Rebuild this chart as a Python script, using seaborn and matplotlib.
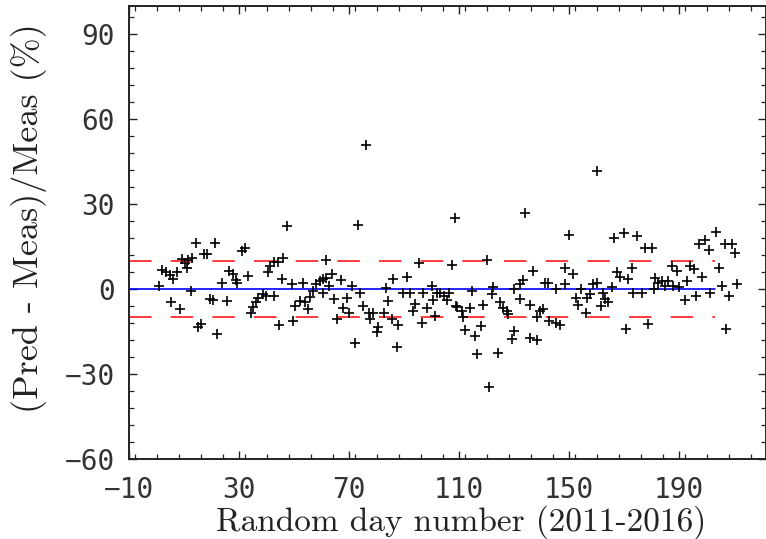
import matplotlib
matplotlib.use("Agg")
import matplotlib.pyplot as plt
import seaborn as sns
import pandas as pd
from matplotlib.ticker import MultipleLocator, FixedLocator, FuncFormatter

# ---- data ----
day = [1.0, 1.9, 3.5, 4.9, 6.1, 7.3, 5.3, 8.5, 9.1, 10.4, 11.5, 11.0, 12.8, 14.3, 12.4, 15.2, 16.0,
       17.3, 18.5, 21.3, 19.5, 20.4, 22.1, 23.7, 25.5, 26.4, 27.7, 28.9, 29.1, 31.0, 32.2, 33.4, 34.2,
       35.2, 36.2, 37.0, 38.8, 39.8, 42.7, 40.7, 41.3, 42.7, 44.3, 46.1, 47.6, 45.5, 49.1, 44.5, 49.8,
       50.5,
       76.2, 73.2, 108.5, 61.5, 95.5, 107.5, 53.1, 52.2, 54.0, 55.2, 55.8, 57.0, 58.0, 59.5, 60.4,
       61.6, 63.7, 62.8, 60.4, 64.5, 67.0, 69.1, 70.9, 65.5, 67.9, 70.1, 72.2, 74.0, 75.2, 77.1, 78.6,
       77.6, 80.7, 80.3, 82.7, 83.5, 84.3, 86.1, 85.5, 87.9, 87.3, 89.7, 91.2, 92.2, 94.0, 93.4, 96.4,
       97.0, 98.3, 100.0, 100.7, 101.9, 101.3, 103.1, 104.5, 105.5, 106.5, 108.9,
       134.0, 150.1, 166.4, 120.0, 137.0, 148.5, 151.6, 167.3, 133.2, 132.0, 141.3, 142.5, 148.5,
       130.0, 122.5, 114.6, 121.9, 145.3, 154.2, 158.8, 160.0, 162.5, 165.5, 132.0, 118.8, 109.1,
       110.9, 114.0, 111.6, 112.2, 115.8, 117.9, 116.7, 124.3, 121.0, 124.9, 125.8, 127.3, 127.9,
       135.8, 139.5, 140.7, 138.5, 142.8, 145.3, 146.7, 130.0, 129.1, 135.8, 138.5, 152.5, 153.4,
       156.2, 156.5, 157.6, 161.5, 163.1, 164.3,
       160.2, 169.8, 174.8, 177.6, 180.0, 168.5, 172.8, 171.6, 173.4, 176.4, 170.7, 178.8, 181.3,
       182.5, 183.7, 184.9, 186.1, 187.3, 189.4, 187.9, 190.0, 180.7, 192.2, 193.0, 194.0, 195.5,
       196.2, 198.2, 197.1, 199.6, 200.8, 203.3, 204.5, 205.5, 201.3, 206.7, 209.1, 210.4, 208.3,
       211.0, 207.1]
diff = [1.2, 6.7, 5.9, 4.9, 3.5, 5.9, -4.7, -7.1, 10.6, 9.4, 10.2, 7.6, 10.9, 16.4, -0.6, -13.5, -12.4,
        12.4, 12.4, 16.4, -3.5, -3.9, -15.9, 2.3, -4.1, 6.5, 5.3, 3.2, 2.3, 13.3, 14.7, 4.7, -8.3,
        -6.2, -4.7, -3.0, -1.8, -2.4, -2.4, 5.9, 8.2, 9.7, 9.7, 10.9, 22.3, 3.5, 1.8, -12.6, -11.4,
        -5.9,
        50.8, 22.6, 25.1, 10.2, 9.4, 8.6, 2.0, -4.1, -4.7, -7.1, -2.7, -0.6, 1.8, 2.9, 3.5,
        4.1, 5.5, 1.2, -1.5, -3.5, 3.2, -3.3, 1.2, -10.6, -6.5, -8.3, -19.2, -1.5, -5.9, -8.3, -8.3,
        -10.6, -13.3, -15.3, -8.3, 0.4, -4.1, 3.5, -10.6, -12.6, -20.4, -1.2, 4.3, -1.5, -5.3, -7.7, -11.8,
        -1.5, -6.7, 1.2, -3.9, -1.5, -9.4, -1.5, -2.4, -3.9, -1.5, -5.9,
        27.0, 19.2, 18.2, 10.2, 6.5, 7.4, 5.5, 6.2, 3.2, 1.8, 2.0, 2.0, 1.8,
        0.0, 0.8, -0.8, -1.8, 0.0, 0.0, 1.8, 2.3, -1.2, 0.6, -3.5, -5.5, -6.2,
        -7.9, -6.7, -10.0, -14.5, -16.5, -13.0, -22.9, -22.7, -34.7, -4.7, -6.5, -7.9, -8.8,
        -5.5, -7.7, -7.1, -9.8, -11.2, -11.8, -12.6, -14.7, -17.6, -17.1, -18.0, -3.0, -5.5,
        -8.3, -3.0, -1.8, -5.9, -3.5, -4.7,
        41.8, 20.0, 18.8, 14.7, 14.5, 4.3, 7.4, 3.5, -1.2, -1.2, -14.1, -12.4, 4.1,
        2.3, 2.9, 1.2, 2.9, 8.2, 6.5, 1.2, 0.8, 0.0, -3.9, 2.9, 8.2, 7.1,
        -2.4, 4.3, 16.1, 17.3, 13.8, 20.3, 7.4, 1.2, -1.2, 15.9, 15.9, 12.9, -2.4,
        1.8, -14.1]

ref_x = [-10, 203]
zero_line = [0, 0]
upper_band = [10, 10]
lower_band = [-10, -10]

xticks = [-10, 30, 70, 110, 150, 190]
yticks = [-60, -30, 0, 30, 60, 90]
xlabel = "Random day number (2011-2016)"
ylabel = "(Pred - Meas)/Meas (%)"

df = pd.DataFrame({"day": day, "diff": diff})

sns.set_theme(style="ticks")
plt.rcParams["axes.unicode_minus"] = True

fig = plt.figure(figsize=(7.66, 5.39), dpi=100)
ax = fig.add_axes([129 / 766, 80 / 539, 637 / 766, 453 / 539])

sns.scatterplot(data=df, x="day", y="diff", marker="+", color="black",
                s=60, linewidth=1.2, ax=ax, zorder=3)
sns.lineplot(x=ref_x, y=zero_line, color="#0000ff", linewidth=1.2, ax=ax, zorder=2)
for band in (upper_band, lower_band):
    sns.lineplot(x=ref_x, y=band, color="#ff1a1a", linewidth=1.2, ax=ax, zorder=2)
    ax.lines[-1].set_dashes((13.5, 11.5))

ax.set_xlim(-10, 221.6)
ax.set_ylim(-60, 100)

ax.xaxis.set_major_locator(FixedLocator(xticks))
ax.xaxis.set_minor_locator(MultipleLocator(8))
ax.yaxis.set_major_locator(FixedLocator(yticks))
ax.yaxis.set_minor_locator(MultipleLocator(6))
fmt = FuncFormatter(lambda v, p: ("\u2212" if v < 0 else "") + f"{abs(int(round(v)))}")
ax.xaxis.set_major_formatter(fmt)
ax.yaxis.set_major_formatter(fmt)

ax.tick_params(which="both", direction="in", top=True, right=True, color="#222222")
ax.tick_params(which="major", length=6, width=1.0, labelsize=20)
ax.tick_params(axis="x", which="major", pad=12)
ax.tick_params(axis="y", which="major", pad=10)
ax.tick_params(which="minor", length=3.5, width=0.9)
for lab in ax.get_xticklabels() + ax.get_yticklabels():
    lab.set_family(["DejaVu Sans Mono"])
    lab.set_color("#333333")
for sp in ax.spines.values():
    sp.set_linewidth(1.4)
    sp.set_color("#222222")

ax.set_xlabel(xlabel, fontsize=24, family=["cmr10", "DejaVu Serif"], color="#222222")
ax.set_ylabel(ylabel, fontsize=26, family=["cmr10", "DejaVu Serif"], color="#222222")
ax.xaxis.set_label_coords(0.521, -0.102)
ax.yaxis.set_label_coords(-0.128, 0.532)
ax.grid(False)

fig.savefig("out.png", dpi=100)
